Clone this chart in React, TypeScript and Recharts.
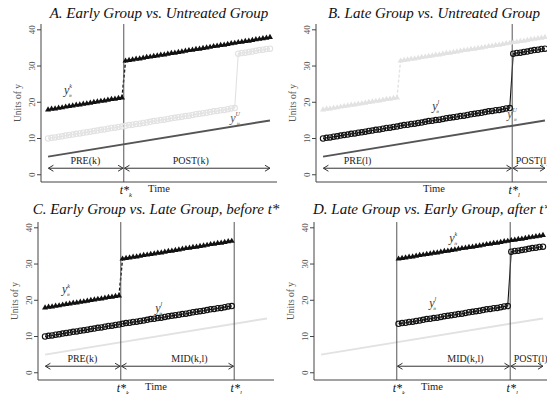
import React from 'react';
import { LineChart, Line, XAxis, YAxis, ReferenceLine, ReferenceDot } from 'recharts';

// values, one point per period (0..63)
const yTicks = [0, 10, 20, 30, 40];
const earlyPre = [18.0, 18.2, 18.3, 18.5, 18.6, 18.8, 19.0, 19.1, 19.3, 19.4, 19.6, 19.7, 19.9, 20.1, 20.2, 20.4, 20.5, 20.7, 20.9, 21.0, 21.2, 21.3];
const earlyPost = [31.5, 31.7, 31.8, 32.0, 32.1, 32.3, 32.5, 32.6, 32.8, 32.9, 33.1, 33.2, 33.4, 33.6, 33.7, 33.9, 34.0, 34.2, 34.4, 34.5, 34.7, 34.8, 35.0, 35.1, 35.3, 35.5, 35.6, 35.8, 35.9, 36.1, 36.3, 36.4, 36.6, 36.7, 36.9, 37.0, 37.2, 37.4, 37.5, 37.7, 37.8, 38.0];
const latePre = [10.0, 10.2, 10.3, 10.5, 10.6, 10.8, 11.0, 11.1, 11.3, 11.4, 11.6, 11.7, 11.9, 12.1, 12.2, 12.4, 12.5, 12.7, 12.9, 13.0, 13.2, 13.3, 13.5, 13.7, 13.8, 14.0, 14.1, 14.3, 14.4, 14.6, 14.8, 14.9, 15.1, 15.2, 15.4, 15.6, 15.7, 15.9, 16.0, 16.2, 16.3, 16.5, 16.7, 16.8, 17.0, 17.1, 17.3, 17.5, 17.6, 17.8, 17.9, 18.1, 18.3, 18.4];
const latePost = [33.4, 33.6, 33.7, 33.9, 34.0, 34.2, 34.4, 34.5, 34.7, 34.8];
const untreatedEnds = [5, 15];
const lastPeriod = 63;
const tStarK = 21.5;
const tStarL = 53.7;

const W = 290;
const H = 197;
const SERIF = '"Liberation Serif", "Times New Roman", serif';
const INK = '#111';
const DARK = '#555';
const LIGHT = '#e2e2e2';

type Pt = { t: number; y: number };
const toPts = (vals: number[], start: number): Pt[] => vals.map((y, i) => ({ t: start + i, y }));
const early = { pre: toPts(earlyPre, 0), post: toPts(earlyPost, earlyPre.length) };
const late = { pre: toPts(latePre, 0), post: toPts(latePost, latePre.length) };
const untreated: Pt[] = [{ t: 0, y: untreatedEnds[0] }, { t: lastPeriod, y: untreatedEnds[1] }];
const within = (pts: Pt[], a: number, b: number) => pts.filter((p) => p.t >= a && p.t <= b);

const triDot = (fill: string) => (p: any) => (
  <polygon key={`tri-${p.index}`} points={`${p.cx - 3},${p.cy + 2} ${p.cx + 3},${p.cy + 2} ${p.cx},${p.cy - 3.2}`} fill={fill} />
);
const circDot = (stroke: string) => (p: any) => (
  <circle key={`c-${p.index}`} cx={p.cx} cy={p.cy} r={2.7} fill="none" stroke={stroke} strokeWidth={1.1} />
);

function earlyLines(id: string, color: string, from: number, to: number) {
  const pre = within(early.pre, from, to);
  const post = within(early.post, from, to);
  const out: React.ReactElement[] = [];
  if (pre.length)
    out.push(<Line key={id + 'pre'} data={pre} dataKey="y" type="linear" stroke={color} strokeWidth={1} dot={triDot(color)} activeDot={false} isAnimationActive={false} />);
  if (pre.length && post.length)
    out.push(<Line key={id + 'jump'} data={[pre[pre.length - 1], post[0]]} dataKey="y" type="linear" stroke={color} strokeWidth={1.4} strokeDasharray="3 2" dot={false} activeDot={false} isAnimationActive={false} />);
  if (post.length)
    out.push(<Line key={id + 'post'} data={post} dataKey="y" type="linear" stroke={color} strokeWidth={1} dot={triDot(color)} activeDot={false} isAnimationActive={false} />);
  return out;
}

function lateLines(id: string, color: string, from: number, to: number) {
  const pts = within([...late.pre, ...late.post], from, to);
  return [<Line key={id} data={pts} dataKey="y" type="linear" stroke={color} strokeWidth={1.1} dot={circDot(color)} activeDot={false} isAnimationActive={false} />];
}

function untreatedLine(id: string, color: string) {
  return [<Line key={id} data={untreated} dataKey="y" type="linear" stroke={color} strokeWidth={2} dot={false} activeDot={false} isAnimationActive={false} />];
}

const YTick = (p: any) => (
  <text x={p.x} y={p.y} transform={`rotate(-90, ${p.x}, ${p.y})`} textAnchor="middle" fontSize={9} fill={DARK} fontFamily={SERIF}>
    {p.payload.value}
  </text>
);

const starShape = (sub: string) => (p: any) => {
  const yb = Math.max(p.y1, p.y2);
  return (
    <g>
      <line x1={p.x1} y1={p.y1} x2={p.x2} y2={p.y2} stroke={DARK} strokeWidth={1} />
      <text x={p.x1 + 2} y={yb + 12} textAnchor="middle" fontFamily={SERIF} fontStyle="italic" fontSize={12} fill={INK}>
        t*<tspan fontSize={6.5} dy={2.5}>{sub}</tspan>
      </text>
    </g>
  );
};

type Arrow = { a: number; b: number; label: string; at: number };
const arrowShape = (ar: Arrow) => (p: any) => {
  const { x1, y1, x2 } = p;
  const lx = x1 + ((x2 - x1) * (ar.at - ar.a)) / (ar.b - ar.a);
  return (
    <g>
      <line x1={x1} y1={y1} x2={x2} y2={y1} stroke="#333" strokeWidth={1} />
      <polyline points={`${x1 + 5},${y1 - 3} ${x1},${y1} ${x1 + 5},${y1 + 3}`} fill="none" stroke="#333" strokeWidth={1} />
      <polyline points={`${x2 - 5},${y1 - 3} ${x2},${y1} ${x2 - 5},${y1 + 3}`} fill="none" stroke="#333" strokeWidth={1} />
      <text x={lx} y={y1 - 4.5} textAnchor="middle" fontSize={10} fontFamily={SERIF} fill="#222">{ar.label}</text>
    </g>
  );
};

type Note = { t: number; y: number; sup: string; color: string };
const noteShape = (n: Note) => (p: any) => (
  <text x={p.cx} y={p.cy} fontFamily={SERIF} fontStyle="italic" fontSize={12} fill={n.color}>
    y<tspan fontSize={6} dy={-5.5}>{n.sup}</tspan>
    <tspan fontSize={5} dx={-3} dy={8.5}>it</tspan>
  </text>
);

type PanelCfg = {
  title: string;
  left: number;
  top: number;
  series: React.ReactElement[];
  stars: { x: number; sub: string }[];
  arrows: Arrow[];
  notes: Note[];
};

const panels: PanelCfg[] = [
  {
    title: 'A. Early Group vs. Untreated Group',
    left: 0,
    top: 0,
    series: [...untreatedLine('a-u', DARK), ...lateLines('a-l', LIGHT, 0, lastPeriod), ...earlyLines('a-k', INK, 0, lastPeriod)],
    stars: [{ x: tStarK, sub: 'k' }],
    arrows: [
      { a: 0.1, b: 21.3, label: 'PRE(k)', at: 10.6 },
      { a: 21.7, b: 63, label: 'POST(k)', at: 40.5 },
    ],
    notes: [
      { t: 4.5, y: 22.3, sup: 'k', color: '#333' },
      { t: 51.7, y: 14.6, sup: 'U', color: DARK },
    ],
  },
  {
    title: 'B. Late Group vs. Untreated Group',
    left: 275,
    top: 0,
    series: [...earlyLines('b-k', LIGHT, 0, lastPeriod), ...untreatedLine('b-u', DARK), ...lateLines('b-l', INK, 0, lastPeriod)],
    stars: [{ x: tStarL, sub: 'l' }],
    arrows: [
      { a: 0.1, b: 53.5, label: 'PRE(l)', at: 9.8 },
      { a: 53.9, b: 63, label: 'POST(l)', at: 59.5 },
    ],
    notes: [
      { t: 31, y: 17.9, sup: 'l', color: '#333' },
      { t: 52.3, y: 15.7, sup: 'U', color: DARK },
    ],
  },
  {
    title: 'C. Early Group vs. Late Group, before t*',
    left: -3,
    top: 198,
    series: [...untreatedLine('c-u', LIGHT), ...earlyLines('c-k', INK, 0, 53), ...lateLines('c-l', INK, 0, 53)],
    stars: [
      { x: tStarK, sub: 'k' },
      { x: tStarL, sub: 'l' },
    ],
    arrows: [
      { a: 0.1, b: 21.3, label: 'PRE(k)', at: 10.6 },
      { a: 21.7, b: 53.5, label: 'MID(k,l)', at: 41 },
    ],
    notes: [
      { t: 4.8, y: 22, sup: 'k', color: '#333' },
      { t: 31.3, y: 16.8, sup: 'l', color: '#333' },
    ],
  },
  {
    title: 'D. Late Group vs. Early Group, after t*',
    left: 273,
    top: 198,
    series: [...untreatedLine('d-u', LIGHT), ...earlyLines('d-k', INK, 22, lastPeriod), ...lateLines('d-l', INK, 22, lastPeriod)],
    stars: [
      { x: tStarK, sub: 'k' },
      { x: tStarL, sub: 'l' },
    ],
    arrows: [
      { a: 21.7, b: 53.5, label: 'MID(k,l)', at: 41 },
      { a: 53.9, b: 63, label: 'POST(l)', at: 59.5 },
    ],
    notes: [
      { t: 36.4, y: 36.1, sup: 'k', color: '#333' },
      { t: 30.7, y: 18.2, sup: 'l', color: '#333' },
    ],
  },
];

function Panel({ cfg }: { cfg: PanelCfg }) {
  return (
    <div style={{ position: 'absolute', left: cfg.left, top: cfg.top, width: W, height: H }}>
      <LineChart width={W} height={H} margin={{ top: 24, right: 13, bottom: 0, left: 0 }}>
        <XAxis
          dataKey="t"
          type="number"
          domain={[-2, 65]}
          allowDataOverflow
          height={15}
          tick={false}
          tickLine={false}
          axisLine={{ stroke: '#444' }}
          label={{
            content: (p: any) => (
              <text x={p.viewBox.x + p.viewBox.width / 2} y={p.viewBox.y + 9.5} textAnchor="middle" fontSize={10.5} fontFamily={SERIF} fill="#222">
                Time
              </text>
            ),
          }}
        />
        <YAxis
          type="number"
          domain={[-2, 41.6]}
          allowDataOverflow
          ticks={yTicks}
          width={41}
          tickSize={4}
          tickMargin={2}
          tick={YTick}
          tickLine={{ stroke: '#444' }}
          axisLine={{ stroke: '#444' }}
          label={{
            content: (p: any) => {
              const cy = p.viewBox.y + p.viewBox.height / 2;
              return (
                <text x={20.5} y={cy} transform={`rotate(-90, 20.5, ${cy})`} textAnchor="middle" fontSize={9.5} fontFamily={SERIF} fill={DARK}>
                  Units of y
                </text>
              );
            },
          }}
        />
        {cfg.series}
        {cfg.stars.map((s) => (
          <ReferenceLine key={'s' + s.sub} x={s.x} shape={starShape(s.sub)} />
        ))}
        {cfg.arrows.map((ar) => (
          <ReferenceLine
            key={'a' + ar.label}
            segment={[
              { x: ar.a, y: 1.8 },
              { x: ar.b, y: 1.8 },
            ]}
            shape={arrowShape(ar)}
          />
        ))}
        {cfg.notes.map((n) => (
          <ReferenceDot key={'n' + n.sup + n.t} x={n.t} y={n.y} r={0} shape={noteShape(n)} />
        ))}
      </LineChart>
    </div>
  );
}

export default function App() {
  return (
    <div style={{ position: 'fixed', left: 0, top: 0, width: 547, height: 394, overflow: 'hidden', background: '#fff' }}>
      {panels.map((cfg) => (
        <Panel key={cfg.title} cfg={cfg} />
      ))}
      <svg width={547} height={394} style={{ position: 'absolute', left: 0, top: 0, pointerEvents: 'none' }}>
        {panels.map((cfg) => (
          <text
            key={cfg.title}
            x={cfg.left + 159}
            y={cfg.top === 0 ? 18.3 : 213.5}
            textAnchor="middle"
            fontFamily={SERIF}
            fontStyle="italic"
            fontSize={15}
            fill="#111"
          >
            {cfg.title}
          </text>
        ))}
      </svg>
    </div>
  );
}
